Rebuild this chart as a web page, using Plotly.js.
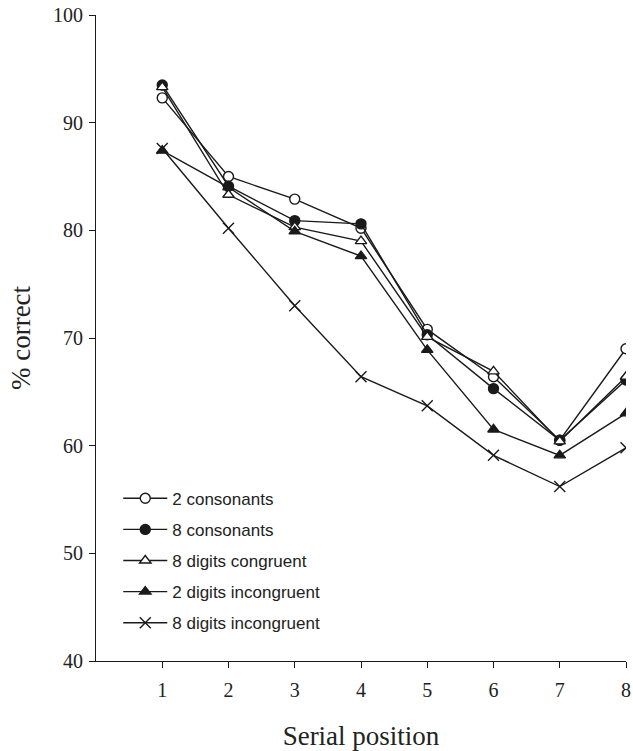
<!DOCTYPE html>
<html>
<head>
<meta charset="utf-8">
<script src="https://cdn.plot.ly/plotly-3.0.1.min.js"></script>
<style>html,body{margin:0;padding:0;background:#fff;}#chart{width:633px;height:751px;}</style>
</head>
<body>
<div id="chart"></div>
<script>
var positions = [1, 2, 3, 4, 5, 6, 7, 8];
var seriesNames = ["2 consonants", "8 consonants", "8 digits congruent", "2 digits incongruent", "8 digits incongruent"];
var consonants2 = [92.3, 85.0, 82.9, 80.2, 70.8, 66.4, 60.5, 69.0];
var consonants8 = [93.5, 84.1, 80.9, 80.6, 70.3, 65.3, 60.5, 66.1];
var digits8Congruent = [93.3, 83.3, 80.3, 79.0, 70.1, 66.9, 60.4, 66.4];
var digits2Incongruent = [87.4, 84.0, 79.9, 77.6, 68.9, 61.5, 59.1, 63.0];
var digits8Incongruent = [87.6, 80.2, 73.0, 66.4, 63.7, 59.1, 56.2, 59.8];
var yTicks = [40, 50, 60, 70, 80, 90, 100];

var ink = "#1a1a1a";
function mk(name, y, symbol, fill, size, group) {
  return {
    x: positions, y: y, name: name, type: "scatter", mode: "lines+markers",
    legendgroup: group,
    line: {color: ink, width: 1.4},
    marker: {symbol: symbol, size: size, color: fill, line: {color: ink, width: 1.4}}
  };
}
var data = [
  mk(seriesNames[0], consonants2, "circle", "#ffffff", 10, "a"),
  mk(seriesNames[1], consonants8, "circle", ink, 10, "b"),
  mk(seriesNames[2], digits8Congruent, "triangle-up", "#ffffff", 10, "c"),
  mk(seriesNames[3], digits2Incongruent, "triangle-up", ink, 10, "d"),
  mk(seriesNames[4], digits8Incongruent, "x-thin", ink, 11, "e")
];

var serif = "Liberation Serif, Times New Roman, serif";
var layout = {
  width: 633, height: 751,
  margin: {l: 96, r: 7, t: 15, b: 90},
  paper_bgcolor: "#ffffff", plot_bgcolor: "#ffffff",
  showlegend: true,
  legend: {
    x: 0.042, y: 0.279, xanchor: "left", yanchor: "top",
    bgcolor: "rgba(0,0,0,0)", borderwidth: 0,
    font: {family: "Liberation Sans, Arial, sans-serif", size: 17, color: "#222"},
    tracegroupgap: 6, itemwidth: 44, traceorder: "grouped"
  },
  xaxis: {
    range: [0, 8], tickvals: positions, ticktext: positions.map(String),
    showgrid: false, zeroline: false, showline: true, linecolor: ink, linewidth: 1,
    ticks: "outside", ticklen: 6, tickcolor: ink, tickwidth: 1, ticklabelstandoff: 5,
    tickfont: {family: serif, size: 20, color: "#222"},
    title: {text: "Serial position", standoff: 30, font: {family: serif, size: 27, color: "#222"}}
  },
  yaxis: {
    range: [40, 100], tickvals: yTicks, ticktext: yTicks.map(String),
    showgrid: false, zeroline: false, showline: true, linecolor: ink, linewidth: 1,
    ticks: "outside", ticklen: 6, tickcolor: ink, tickwidth: 1, ticklabelstandoff: 2,
    tickfont: {family: serif, size: 20, color: "#222"},
    title: {text: "% correct", standoff: 14, font: {family: serif, size: 27, color: "#222"}}
  }
};
Plotly.newPlot("chart", data, layout, {displayModeBar: false, staticPlot: true});
</script>
</body>
</html>
